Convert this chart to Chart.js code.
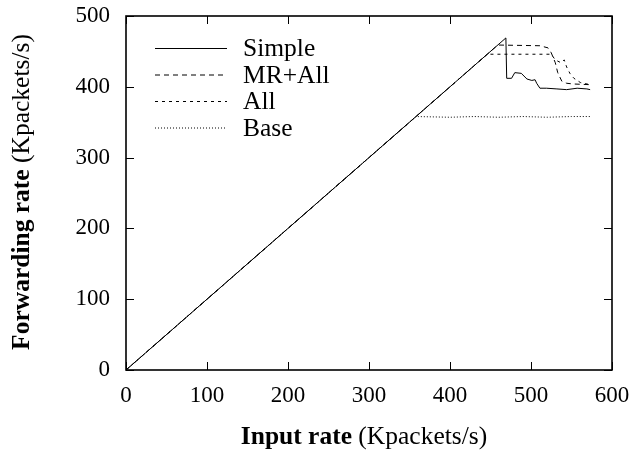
<!DOCTYPE html>
<html>
<head>
<meta charset="utf-8">
<script src="https://cdn.jsdelivr.net/npm/chart.js@4"></script>
<style>
  html, body { margin: 0; padding: 0; background: #fff; }
  #wrap { width: 634px; height: 451px; }
</style>
</head>
<body>
<div id="wrap"><canvas id="myChart" width="634" height="451"></canvas></div>
<script>
// values (Kpackets/s)
var xTicks = [0, 100, 200, 300, 400, 500, 600];
var yTicks = [0, 100, 200, 300, 400, 500];

var simpleX = [0, 469, 470, 476, 480, 488, 495, 501, 505, 507, 511, 519, 532, 544, 557, 569, 573];
var simpleY = [0, 469, 412, 412, 420, 419, 411, 409, 410, 405, 398, 398, 397, 396, 398, 397, 396];

var mrAllX = [0, 459, 511, 521, 525, 530, 533, 538, 544, 552, 573];
var mrAllY = [0, 459, 458, 455, 448, 434, 420, 408, 405, 404, 403];

var allX = [0, 446, 525, 530, 537, 541, 544, 548, 553, 561, 573];
var allY = [0, 446, 446, 438, 434, 438, 428, 419, 412, 406, 403];

var baseX = [0, 358, 400, 430, 460, 490, 520, 550, 575];
var baseY = [0, 358, 357, 358, 357, 358, 357, 358, 358];

var seriesNames = ['Simple', 'MR+All', 'All', 'Base'];
var seriesDash = [[], [5, 4], [3, 4], [1, 2]];

var FONT = '"Liberation Serif", "DejaVu Serif", serif';

function pts(xs, ys) {
    return xs.map(function (x, i) { return { x: x, y: ys[i] }; });
}

function makeSet(i, xs, ys) {
    return {
        label: seriesNames[i],
        data: pts(xs, ys),
        borderColor: '#000',
        borderWidth: 1,
        borderDash: seriesDash[i],
        pointRadius: 0,
        tension: 0,
        fill: false
    };
}

// frame, inside tick marks, legend and axis titles
var decor = {
    id: 'decor',
    afterDraw: function (chart) {
        var ctx = chart.ctx;
        var a = chart.chartArea;
        var xs = chart.scales.x, ys = chart.scales.y;
        ctx.save();
        ctx.strokeStyle = '#000';
        ctx.lineWidth = 1;
        ctx.beginPath();
        xTicks.forEach(function (v) {
            var p = Math.round(xs.getPixelForValue(v)) + 0.5;
            ctx.moveTo(p, a.bottom); ctx.lineTo(p, a.bottom - 8);
            ctx.moveTo(p, a.top); ctx.lineTo(p, a.top + 8);
        });
        yTicks.forEach(function (v) {
            var p = Math.round(ys.getPixelForValue(v)) + 0.5;
            ctx.moveTo(a.left, p); ctx.lineTo(a.left + 8, p);
            ctx.moveTo(a.right, p); ctx.lineTo(a.right - 8, p);
        });
        ctx.stroke();
        ctx.lineWidth = 1.6;
        ctx.strokeRect(a.left, a.top, a.right - a.left, a.bottom - a.top);

        // legend
        ctx.lineWidth = 1;
        ctx.font = '25.5px ' + FONT;
        ctx.fillStyle = '#000';
        ctx.textBaseline = 'middle';
        ctx.textAlign = 'left';
        for (var i = 0; i < seriesNames.length; i++) {
            var y = 48.5 + i * 26.5;
            ctx.setLineDash(seriesDash[i]);
            ctx.beginPath();
            ctx.moveTo(155, y); ctx.lineTo(227, y);
            ctx.stroke();
            ctx.setLineDash([]);
            ctx.fillText(seriesNames[i], 243, y + 1);
        }

        // axis titles, bold part + normal part
        function mixed(bold, normal, cx, cy) {
            ctx.font = 'bold 25.5px ' + FONT;
            var w1 = ctx.measureText(bold).width;
            ctx.font = '25.5px ' + FONT;
            var w2 = ctx.measureText(normal).width;
            var x0 = cx - (w1 + w2) / 2;
            ctx.font = 'bold 25.5px ' + FONT;
            ctx.fillText(bold, x0, cy);
            ctx.font = '25.5px ' + FONT;
            ctx.fillText(normal, x0 + w1, cy);
        }
        mixed('Input rate ', '(Kpackets/s)', 364, 437);
        ctx.translate(22, 192);
        ctx.rotate(-Math.PI / 2);
        mixed('Forwarding rate ', '(Kpackets/s)', 0, 0);
        ctx.restore();
    }
};

new Chart('myChart', {
    type: 'line',
    data: {
        datasets: [
            makeSet(3, baseX, baseY),
            makeSet(2, allX, allY),
            makeSet(1, mrAllX, mrAllY),
            makeSet(0, simpleX, simpleY)
        ]
    },
    options: {
        responsive: false,
        animation: false,
        layout: { padding: { top: 16, right: 22, left: 0, bottom: 0 } },
        plugins: {
            legend: { display: false },
            title: { display: false },
            tooltip: { enabled: false }
        },
        scales: {
            x: {
                type: 'linear',
                min: 0,
                max: 600,
                afterFit: function (s) {
                    s.height = 81;
                    s.paddingLeft = 0; s.paddingRight = 0;
                },
                afterBuildTicks: function (s) { s.ticks = xTicks.map(function (v) { return { value: v }; }); },
                grid: { display: false, drawTicks: false },
                border: { display: false },
                ticks: { color: '#000', padding: 12, font: { family: FONT, size: 23 }, maxRotation: 0 }
            },
            y: {
                min: 0,
                max: 500,
                afterFit: function (s) {
                    s.width = 126;
                    s.paddingTop = 0; s.paddingBottom = 0;
                },
                afterBuildTicks: function (s) { s.ticks = yTicks.map(function (v) { return { value: v }; }); },
                grid: { display: false, drawTicks: false },
                border: { display: false },
                ticks: { color: '#000', padding: 16, font: { family: FONT, size: 23 } }
            }
        }
    },
    plugins: [decor]
});
</script>
</body>
</html>
